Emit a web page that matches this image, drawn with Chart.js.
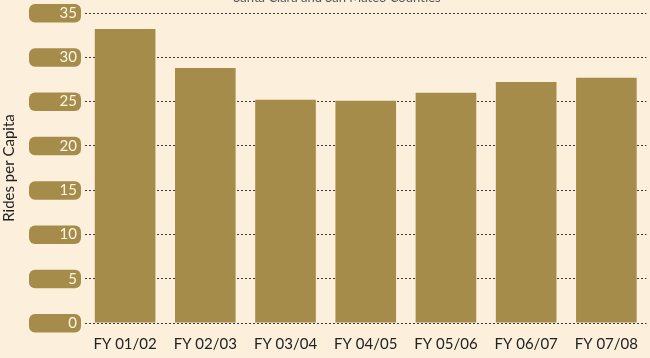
<!DOCTYPE html>
<html>
<head>
<meta charset="utf-8">
<script src="https://cdn.jsdelivr.net/npm/chart.js@4"></script>
<style>
  html, body { margin: 0; padding: 0; background: #fcf0dc; }
  #wrap { width: 650px; height: 358px; }
</style>
</head>
<body>
<div id="wrap"><canvas id="chart"></canvas></div>
<script>
const years = ['FY 01/02', 'FY 02/03', 'FY 03/04', 'FY 04/05', 'FY 05/06', 'FY 06/07', 'FY 07/08'];
const ridesPerCapita = [33.2, 28.8, 25.2, 25.1, 26.0, 27.2, 27.7];
const subtitle = 'Santa Clara and San Mateo Counties';

const gold = '#a68c4b';
const cream = '#fcf0dc';
const fontFamily = 'Lato, "DejaVu Sans", sans-serif';

// rounded tabs behind the y tick labels, plus the clipped subtitle at the top
const tabPlugin = {
    id: 'tabs',
    beforeDraw(chart) {
        const ctx = chart.ctx;
        const y = chart.scales.y;
        ctx.save();
        ctx.fillStyle = cream;
        ctx.fillRect(0, 0, chart.width, chart.height);
        ctx.fillStyle = gold;
        y.ticks.forEach((t, i) => {
            const py = y.getPixelForTick(i);
            ctx.beginPath();
            ctx.roundRect(29, py - 9, 52, 18.5, 6);
            ctx.fill();
        });
        ctx.fillStyle = '#555';
        ctx.font = '13px ' + fontFamily;
        ctx.textAlign = 'center';
        ctx.textBaseline = 'alphabetic';
        ctx.fillText(subtitle, 337, 2);
        ctx.restore();
    }
};

new Chart(document.getElementById('chart'), {
    type: 'bar',
    data: {
        labels: years,
        datasets: [{
            data: ridesPerCapita,
            backgroundColor: gold,
            borderWidth: 0,
            categoryPercentage: 1,
            barPercentage: 0.756
        }]
    },
    options: {
        responsive: true,
        maintainAspectRatio: false,
        animation: false,
        layout: { padding: { top: 13, right: 0, left: 0, bottom: 0 } },
        plugins: {
            legend: { display: false },
            tooltip: { enabled: false }
        },
        scales: {
            x: {
                grid: { display: false, drawTicks: false },
                border: { display: false },
                ticks: {
                    color: '#222',
                    font: { family: fontFamily, size: 15 },
                    padding: 12,
                    maxRotation: 0
                },
                afterFit(scale) { scale.height = 35; }
            },
            y: {
                min: 0,
                max: 35,
                ticks: {
                    stepSize: 5,
                    color: '#fdf4e3',
                    font: { family: fontFamily, size: 15, lineHeight: 0.6 },
                    padding: 8
                },
                grid: { color: '#3a3a3a', lineWidth: 1, drawTicks: false },
                border: { display: false, dash: [2, 2] },
                title: {
                    display: true,
                    text: 'Rides per Capita',
                    color: '#222',
                    font: { family: fontFamily, size: 15 },
                    padding: { top: 0, bottom: 3 }
                },
                afterFit(scale) { scale.width = 85; }
            }
        }
    },
    plugins: [tabPlugin]
});
</script>
</body>
</html>
